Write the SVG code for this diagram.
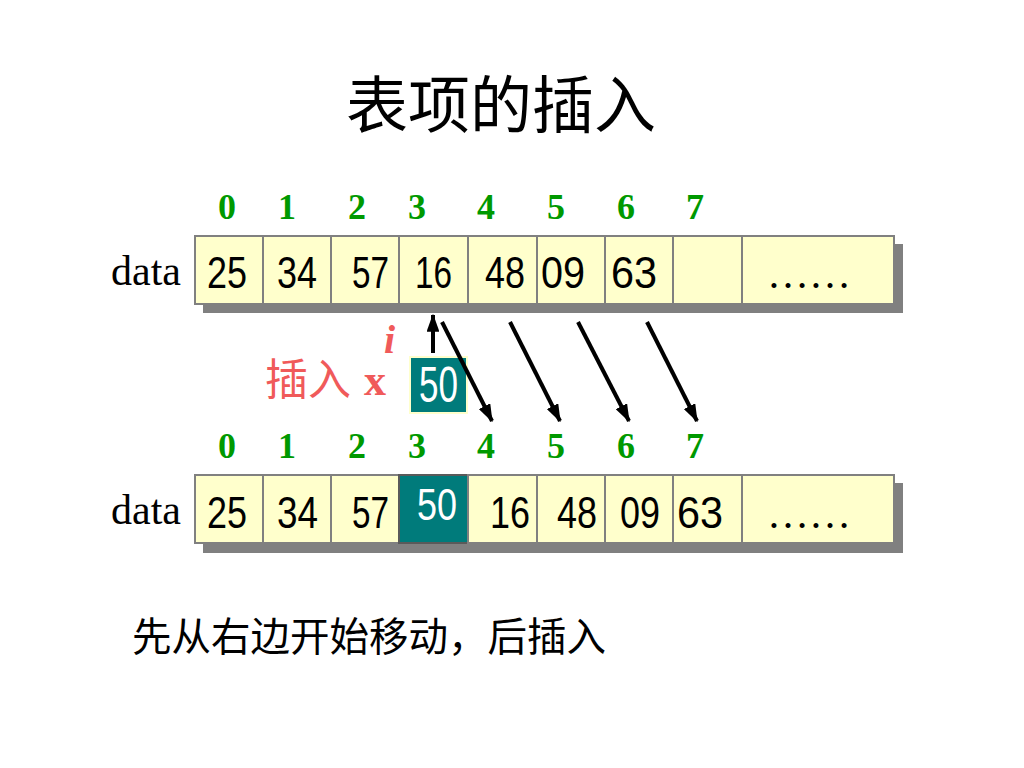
<svg xmlns="http://www.w3.org/2000/svg" width="1024" height="768" viewBox="0 0 1024 768">
<style>
.cell{fill:#ffffcc;stroke:#808080;stroke-width:2}
.sel{fill:#007b7b;stroke:#5a5a5a;stroke-width:2}
.shadow{fill:#808080}
.num{font-family:"Liberation Sans",Arial,sans-serif;font-size:45px;fill:#000}
.wnum{font-family:"Liberation Sans",Arial,sans-serif;font-size:44px;fill:#fff}
.dots{font-family:"Liberation Serif","Times New Roman",serif;font-size:42px;fill:#000}
.idx{font-family:"Liberation Serif","Times New Roman",serif;font-size:36px;font-weight:bold;fill:#009900;text-anchor:middle}
.lbl{font-family:"Liberation Serif","Times New Roman",serif;font-size:42px;fill:#000}
.cjk{font-family:"Noto Sans CJK SC","Noto Sans CJK JP",sans-serif;fill:#000}
.red{fill:#f05a5a}
.arr{stroke:#000;stroke-width:4;fill:none;marker-end:url(#ah)}
</style>
<defs>
<marker id="ah" viewBox="0 0 14 10" refX="13" refY="5" markerWidth="4.5" markerHeight="3.2" markerUnits="strokeWidth" orient="auto">
<path d="M0,0 L14,5 L0,10 Z" fill="#000"/>
</marker>
</defs>
<rect width="1024" height="768" fill="#fff"/>

<text class="cjk" x="501" y="128" font-size="62" text-anchor="middle">表项的插入</text>

<g id="idx-top">
<text class="idx" x="227" y="219">0</text>
<text class="idx" x="287" y="219">1</text>
<text class="idx" x="357" y="219">2</text>
<text class="idx" x="417" y="219">3</text>
<text class="idx" x="486" y="219">4</text>
<text class="idx" x="556" y="219">5</text>
<text class="idx" x="626" y="219">6</text>
<text class="idx" x="695" y="219">7</text>
</g>

<text class="lbl" x="111" y="285">data</text>

<g id="array-top">
<rect class="shadow" x="203" y="244" width="700" height="69"/>
<g id="t0"><rect class="cell" x="195" y="236" width="68" height="68"/><text class="num" x="207" y="288" textLength="40" lengthAdjust="spacingAndGlyphs">25</text></g>
<g id="t1"><rect class="cell" x="263" y="236" width="68" height="68"/><text class="num" x="277" y="288" textLength="40" lengthAdjust="spacingAndGlyphs">34</text></g>
<g id="t2"><rect class="cell" x="331" y="236" width="68" height="68"/><text class="num" x="352" y="288" textLength="37" lengthAdjust="spacingAndGlyphs">57</text></g>
<g id="t3"><rect class="cell" x="399" y="236" width="69" height="68"/><text class="num" x="415" y="288" textLength="37" lengthAdjust="spacingAndGlyphs">16</text></g>
<g id="t4"><rect class="cell" x="468" y="236" width="69" height="68"/><text class="num" x="485" y="288" textLength="40" lengthAdjust="spacingAndGlyphs">48</text></g>
<g id="t5"><rect class="cell" x="537" y="236" width="68" height="68"/><text class="num" x="541" y="288" textLength="44" lengthAdjust="spacingAndGlyphs">09</text></g>
<g id="t6"><rect class="cell" x="605" y="236" width="68" height="68"/><text class="num" x="611" y="288" textLength="46" lengthAdjust="spacingAndGlyphs">63</text></g>
<g id="t7"><rect class="cell" x="673" y="236" width="69" height="68"/></g>
<g id="t8"><rect class="cell" x="742" y="236" width="152" height="68"/><text class="dots" x="767" y="288">……</text></g>
</g>

<g id="insert-x">
<text class="cjk red" x="265" y="395" font-size="43">插入</text>
<text class="red" x="364" y="395" font-family="Liberation Serif,serif" font-size="44" font-weight="bold">x</text>
<text class="red" x="384" y="353" font-family="Liberation Serif,serif" font-size="40" font-weight="bold" font-style="italic">i</text>
<rect x="409" y="356" width="59" height="58" fill="#ffffcc"/>
<rect x="411" y="358" width="55" height="54" fill="#007b7b"/>
<text class="wnum" x="419" y="402" style="font-size:50px" textLength="39" lengthAdjust="spacingAndGlyphs">50</text>
</g>

<g id="connectors">
<line class="arr" x1="433" y1="353" x2="433" y2="315"/>
<line class="arr" x1="442" y1="322" x2="492" y2="421"/>
<line class="arr" x1="510" y1="322" x2="560" y2="421"/>
<line class="arr" x1="578" y1="322" x2="629" y2="421"/>
<line class="arr" x1="647" y1="322" x2="697" y2="421"/>
</g>

<g id="idx-bottom">
<text class="idx" x="227" y="458">0</text>
<text class="idx" x="287" y="458">1</text>
<text class="idx" x="357" y="458">2</text>
<text class="idx" x="417" y="458">3</text>
<text class="idx" x="486" y="458">4</text>
<text class="idx" x="556" y="458">5</text>
<text class="idx" x="626" y="458">6</text>
<text class="idx" x="695" y="458">7</text>
</g>

<text class="lbl" x="111" y="524">data</text>

<g id="array-bottom">
<rect class="shadow" x="203" y="483" width="700" height="70"/>
<g id="b0"><rect class="cell" x="195" y="475" width="68" height="68"/><text class="num" x="207" y="528" textLength="40" lengthAdjust="spacingAndGlyphs">25</text></g>
<g id="b1"><rect class="cell" x="263" y="475" width="68" height="68"/><text class="num" x="277" y="528" textLength="41" lengthAdjust="spacingAndGlyphs">34</text></g>
<g id="b2"><rect class="cell" x="331" y="475" width="68" height="68"/><text class="num" x="352" y="528" textLength="37" lengthAdjust="spacingAndGlyphs">57</text></g>
<g id="b3"><rect class="sel" x="399" y="475" width="69" height="68"/><text class="wnum" x="417" y="520" textLength="40" lengthAdjust="spacingAndGlyphs">50</text></g>
<g id="b4"><rect class="cell" x="468" y="475" width="69" height="68"/><text class="num" x="490" y="528" textLength="40" lengthAdjust="spacingAndGlyphs">16</text></g>
<g id="b5"><rect class="cell" x="537" y="475" width="68" height="68"/><text class="num" x="557" y="528" textLength="40" lengthAdjust="spacingAndGlyphs">48</text></g>
<g id="b6"><rect class="cell" x="605" y="475" width="68" height="68"/><text class="num" x="620" y="528" textLength="40" lengthAdjust="spacingAndGlyphs">09</text></g>
<g id="b7"><rect class="cell" x="673" y="475" width="69" height="68"/><text class="num" x="677" y="528" textLength="46" lengthAdjust="spacingAndGlyphs">63</text></g>
<g id="b8"><rect class="cell" x="742" y="475" width="152" height="68"/><text class="dots" x="767" y="528">……</text></g>
</g>

<text class="cjk" x="132" y="651" font-size="39.5">先从右边开始移动，后插入</text>
</svg>
